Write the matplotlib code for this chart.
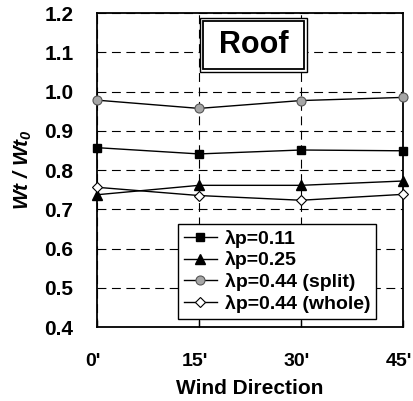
import matplotlib
matplotlib.use("Agg")
import matplotlib.pyplot as plt
import matplotlib.transforms as mtransforms
from matplotlib.patches import Rectangle

plt.rcParams['font.family'] = ['Liberation Sans', 'DejaVu Sans']
plt.rcParams['font.weight'] = 'bold'
plt.rcParams['mathtext.fontset'] = 'custom'
plt.rcParams['mathtext.bf'] = 'Liberation Sans:bold:italic'

# data
directions = [0, 15, 30, 45]
tick_labels = ["0'", "15'", "30'", "45'"]
lp011 = [0.857, 0.841, 0.851, 0.849]
lp025 = [0.737, 0.761, 0.761, 0.772]
lp044_split = [0.978, 0.957, 0.977, 0.985]
lp044_whole = [0.756, 0.735, 0.723, 0.738]

fig = plt.figure(figsize=(4.14, 4.01), dpi=100)
ax = fig.add_axes([0.2343, 0.1845, 0.739, 0.783])

ax.plot(directions, lp011, color='black', lw=1, marker='s', ms=6,
        mfc='black', mec='black', label='λp=0.11', clip_on=False, zorder=3)
ax.plot(directions, lp025, color='black', lw=1, marker='^', ms=7,
        mfc='black', mec='black', label='λp=0.25', clip_on=False, zorder=3)
ax.plot(directions, lp044_split, color='black', lw=1, marker='o', ms=6.5,
        mfc='#a6a6a6', mec='#555555', mew=0.8, label='λp=0.44 (split)',
        clip_on=False, zorder=3)
ax.plot(directions, lp044_whole, color='black', lw=1, marker='D', ms=5,
        mfc='white', mec='black', mew=0.8, label='λp=0.44 (whole)',
        clip_on=False, zorder=3)

ax.set_xlim(0, 45)
ax.set_ylim(0.4, 1.2)
ax.set_xticks(directions)
ax.set_xticklabels(tick_labels, fontsize=14, fontweight='bold')
ax.set_yticks([0.4, 0.5, 0.6, 0.7, 0.8, 0.9, 1.0, 1.1, 1.2])
ax.set_yticklabels([f"{v:.1f}" for v in ax.get_yticks()], fontsize=15,
                   fontweight='bold')
ax.tick_params(axis='x', direction='in', length=5, pad=19, width=1)
ax.tick_params(axis='y', length=0, pad=17)

# nudge x tick labels a little to the left, as in the original
shift = mtransforms.ScaledTranslation(-4 / 100, 0, fig.dpi_scale_trans)
for lbl in ax.get_xticklabels():
    lbl.set_transform(lbl.get_transform() + shift)

ax.grid(True, color='black', linestyle=(0, (8, 5)), linewidth=0.8)
for s in ax.spines.values():
    s.set_linewidth(1.3)

ax.set_xlabel('Wind Direction', fontsize=15, fontweight='bold', labelpad=6)
ax.set_ylabel('Wt / Wt$_\\mathbf{0}$', fontsize=15, fontweight='bold',
              fontstyle='italic', labelpad=7)

# double-bordered "Roof" box
ax.add_patch(Rectangle((0.337, 0.812), 0.350, 0.172, transform=ax.transAxes,
                       facecolor='white', edgecolor='black', lw=1, zorder=4))
ax.add_patch(Rectangle((0.347, 0.822), 0.330, 0.152, transform=ax.transAxes,
                       facecolor='white', edgecolor='black', lw=1.3, zorder=4))
ax.text(0.512, 0.898, 'Roof', transform=ax.transAxes, fontsize=22,
        fontweight='bold', ha='center', va='center', zorder=5)

leg = ax.legend(loc='lower left', bbox_to_anchor=(0.265, 0.0255),
                borderaxespad=0, fancybox=False, framealpha=1,
                edgecolor='black', handlelength=1.7, handletextpad=0.4,
                labelspacing=0.2, borderpad=0.3,
                prop={'weight': 'bold', 'size': 14})
leg.get_frame().set_linewidth(1)
leg.set_zorder(6)

fig.savefig('out.png', dpi=100)
